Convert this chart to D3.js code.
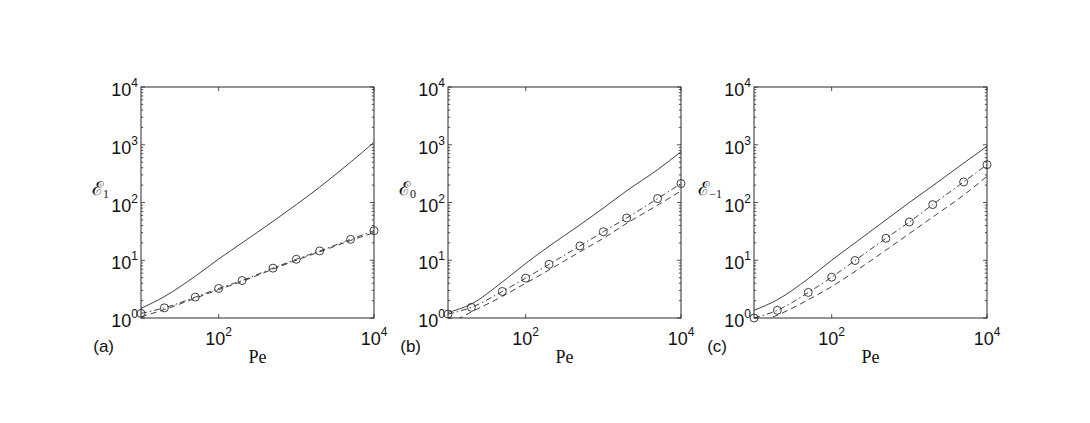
<!DOCTYPE html>
<html>
<head>
<meta charset="utf-8">
<script src="https://cdn.jsdelivr.net/npm/d3@7"></script>
<style>
  html, body { margin: 0; padding: 0; background: #fff; }
  svg { display: block; }
  .tick-label { font-family: "Liberation Sans", Arial, sans-serif; font-size: 18px; fill: #111; }
  .panel-tag { font-family: "Liberation Sans", Arial, sans-serif; font-size: 17px; fill: #111; }
  .xlab { font-family: "Liberation Serif", "DejaVu Serif", serif; font-size: 18px; fill: #111; }
  .ylab { font-family: "DejaVu Serif", "Liberation Serif", serif; font-size: 19px; fill: #111; }
</style>
</head>
<body>
<svg id="chart" width="1090" height="423"></svg>
<script>
// Pe values shared by all three panels
const pe = [10, 20, 50, 100, 200, 500, 1000, 2000, 5000, 10000];

// (a) E_1
const solidA   = [1.47, 2.35, 5.3, 10.5, 20, 47, 92, 185, 500, 1100];
const dashedA  = [1.05, 1.4, 2.2, 3.1, 4.3, 7.0, 10, 14, 22, 30];
const dashDotA = [1.2, 1.5, 2.3, 3.25, 4.46, 7.3, 10.4, 14.5, 23, 32.5];
const circA    = [1.2, 1.5, 2.3, 3.25, 4.46, 7.3, 10.4, 14.5, 23, 32.5];

// (b) E_0
const solidB   = [1.25, 1.75, 4.2, 8.8, 17.5, 41, 80, 160, 370, 760];
const dashedB  = [0.79, 1.27, 2.37, 4.0, 6.8, 14, 24, 43.5, 90, 158];
const dashDotB = [1.17, 1.53, 2.88, 4.9, 8.5, 17.7, 31.2, 54, 117, 213];
const circB    = [1.17, 1.53, 2.88, 4.9, 8.5, 17.7, 31.2, 54, 117, 213];

// (c) E_-1
const solidC   = [1.36, 2.07, 4.8, 10, 20, 50, 100, 195, 480, 940];
const dashedC  = [0.8, 1.12, 2.07, 3.5, 6.4, 15, 29, 56, 134, 284];
const dashDotC = [1.0, 1.36, 2.77, 5.1, 9.9, 24, 46, 92, 227, 452];
const circC    = [1.0, 1.36, 2.77, 5.1, 9.9, 24, 46, 92, 227, 452];

const panelTags = ["(a)", "(b)", "(c)"];
const ySubs = ["1", "0", "\u22121"];
const xTickVals = [1e2, 1e4];
const xTickExps = ["2", "4"];
const yTickVals = [1e0, 1e1, 1e2, 1e3, 1e4];
const yTickExps = ["0", "1", "2", "3", "4"];

const panels = [
  { solid: solidA, dashed: dashedA, dashDot: dashDotA, circ: circA },
  { solid: solidB, dashed: dashedB, dashDot: dashDotB, circ: circB },
  { solid: solidC, dashed: dashedC, dashDot: dashDotC, circ: circC },
];

const lefts = [141, 448, 754];
const plotTop = 87, w = 233, h = 231;
const ink = "#2a2a2a";

const svg = d3.select("#chart");

panels.forEach((p, i) => {
  const g = svg.append("g").attr("transform", `translate(${lefts[i]},${plotTop})`);
  const x = d3.scaleLog().domain([10, 1e4]).range([0, w]);
  const y = d3.scaleLog().domain([1, 1e4]).range([h, 0]);

  const clipId = `clip-${i}`;
  g.append("clipPath").attr("id", clipId)
    .append("rect").attr("width", w).attr("height", h);

  // minor + major ticks on left/right (inward)
  const minorY = [];
  for (let d = 0; d < 4; d++) for (let k = 2; k <= 9; k++) minorY.push(k * Math.pow(10, d));
  const tg = g.append("g").attr("stroke", ink).attr("stroke-width", 0.8);
  minorY.forEach((v) => {
    tg.append("line").attr("x1", 0).attr("x2", 2.2).attr("y1", y(v)).attr("y2", y(v));
    tg.append("line").attr("x1", w).attr("x2", w - 2.2).attr("y1", y(v)).attr("y2", y(v));
  });
  yTickVals.forEach((v) => {
    tg.append("line").attr("x1", 0).attr("x2", 4).attr("y1", y(v)).attr("y2", y(v));
    tg.append("line").attr("x1", w).attr("x2", w - 4).attr("y1", y(v)).attr("y2", y(v));
  });
  xTickVals.forEach((v) => {
    tg.append("line").attr("x1", x(v)).attr("x2", x(v)).attr("y1", h).attr("y2", h - 4);
    tg.append("line").attr("x1", x(v)).attr("x2", x(v)).attr("y1", 0).attr("y2", 4);
  });

  // frame
  g.append("rect").attr("width", w).attr("height", h)
    .attr("fill", "none").attr("stroke", ink).attr("stroke-width", 1);

  // y tick labels
  yTickVals.forEach((v, k) => {
    const t = g.append("text").attr("class", "tick-label")
      .attr("text-anchor", "end")
      .attr("x", -3).attr("y", y(v) + 9);
    t.append("tspan").text("10");
    t.append("tspan").attr("dy", -9).attr("font-size", 12).text(yTickExps[k]);
  });

  // x tick labels
  xTickVals.forEach((v, k) => {
    const t = g.append("text").attr("class", "tick-label")
      .attr("text-anchor", "middle")
      .attr("x", x(v)).attr("y", h + 27);
    t.append("tspan").text("10");
    t.append("tspan").attr("dy", -9).attr("font-size", 12).text(xTickExps[k]);
  });

  // curves
  const line = (ys) => d3.line()
    .x((d, j) => x(pe[j]))
    .y((d) => y(d))
    .curve(d3.curveMonotoneX)(ys);

  const cg = g.append("g").attr("clip-path", `url(#${clipId})`)
    .attr("fill", "none").attr("stroke", ink).attr("stroke-width", 0.9);
  cg.append("path").attr("d", line(p.solid));
  cg.append("path").attr("d", line(p.dashed)).attr("stroke-dasharray", "6,4");
  cg.append("path").attr("d", line(p.dashDot)).attr("stroke-dasharray", "6,3,1.5,3");

  g.append("g").selectAll("circle")
    .data(p.circ)
    .join("circle")
    .attr("cx", (d, j) => x(pe[j]))
    .attr("cy", (d) => y(d))
    .attr("r", 4)
    .attr("fill", "none")
    .attr("stroke", ink)
    .attr("stroke-width", 0.9);

  // labels
  g.append("text").attr("class", "xlab")
    .attr("text-anchor", "middle")
    .attr("x", w / 2).attr("y", h + 45)
    .text("Pe");

  const yl = g.append("text").attr("class", "ylab")
    .attr("text-anchor", "end")
    .attr("x", -32).attr("y", 108);
  yl.append("tspan").text("\u2130");
  yl.append("tspan").attr("dy", 3).attr("font-size", 12)
    .attr("font-family", "Liberation Serif, serif").text(ySubs[i]);

  g.append("text").attr("class", "panel-tag")
    .attr("text-anchor", "end")
    .attr("x", -27).attr("y", h + 34)
    .text(panelTags[i]);
});
</script>
</body>
</html>
